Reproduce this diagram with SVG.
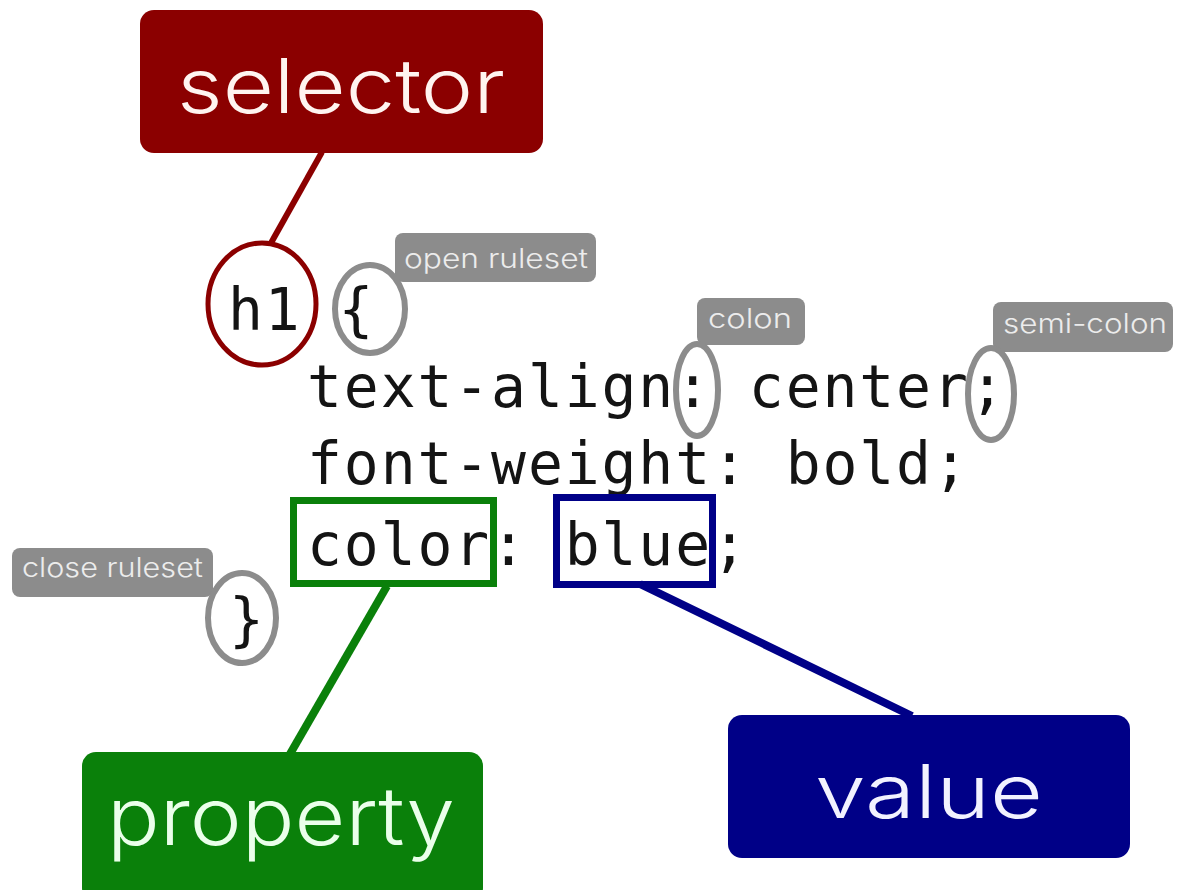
<svg xmlns="http://www.w3.org/2000/svg" width="1177" height="890" viewBox="0 0 1177 890">
<style>
.code{font-family:"DejaVu Sans Mono","Liberation Mono",monospace;font-size:58px;letter-spacing:1.9px;fill:#141414}
.big{font-family:Inter,"Open Sans","DejaVu Sans",sans-serif;font-weight:300;text-anchor:start}
.tag{fill:#8c8c8c}
.tagt{font-family:Inter,"Open Sans","DejaVu Sans",sans-serif;font-size:27px;font-weight:300;fill:#ececec}
.ring{fill:none;stroke:#8c8c8c;stroke-width:6}
</style>
<rect width="1177" height="890" fill="#ffffff"/>
<g id="connectors" fill="none" stroke-linecap="butt">
<line x1="322" y1="152" x2="271" y2="243" stroke="#8b0000" stroke-width="6"/>
<line x1="387" y1="586" x2="290" y2="754" stroke="#0a800a" stroke-width="8"/>
<line x1="640" y1="584" x2="912" y2="716" stroke="#000087" stroke-width="8"/>
</g>
<g id="selector">
<rect x="140" y="10" width="403" height="143" rx="14" fill="#8b0000"/>
<text class="big" x="177" y="113" font-size="76" textLength="328" lengthAdjust="spacingAndGlyphs" fill="#fff4f0">selector</text>
</g>
<g id="property">
<rect x="82" y="752" width="401" height="150" rx="14" fill="#0a800a"/>
<text class="big" x="107" y="845" font-size="80" textLength="348" lengthAdjust="spacingAndGlyphs" fill="#eaffea">property</text>
</g>
<g id="value">
<rect x="728" y="715" width="402" height="143" rx="14" fill="#000087"/>
<text class="big" x="815" y="818" font-size="74" textLength="228" lengthAdjust="spacingAndGlyphs" fill="#f2f2ff">value</text>
</g>
<g id="code">
<text class="code" x="228" y="330">h1 {</text>
<text class="code" x="307" y="407">text-align: center;</text>
<text class="code" x="307" y="484">font-weight: bold;</text>
<text class="code" x="307" y="565">color: blue;</text>
<text class="code" x="229" y="640">}</text>
</g>
<g id="h1-ring">
<ellipse cx="262" cy="304" rx="54" ry="61" fill="none" stroke="#8b0000" stroke-width="5"/>
</g>
<g id="open-ruleset">
<rect class="tag" x="395" y="233" width="201" height="49" rx="8"/>
<text class="tagt" x="404" y="268" textLength="184" lengthAdjust="spacingAndGlyphs">open ruleset</text>
<ellipse class="ring" cx="370" cy="309" rx="35" ry="44"/>
</g>
<g id="colon">
<rect class="tag" x="697" y="298" width="108" height="47" rx="8"/>
<text class="tagt" x="708" y="328" textLength="84" lengthAdjust="spacingAndGlyphs">colon</text>
<ellipse class="ring" cx="697" cy="390" rx="21" ry="46"/>
</g>
<g id="semi-colon">
<rect class="tag" x="993" y="302" width="180" height="50" rx="8"/>
<text class="tagt" x="1003" y="333" textLength="164" lengthAdjust="spacingAndGlyphs">semi-colon</text>
<ellipse class="ring" cx="991" cy="394" rx="23" ry="46"/>
</g>
<g id="close-ruleset">
<rect class="tag" x="12" y="548" width="201" height="49" rx="8"/>
<text class="tagt" x="22" y="577" textLength="181" lengthAdjust="spacingAndGlyphs">close ruleset</text>
<ellipse class="ring" cx="242" cy="618" rx="34" ry="45"/>
</g>
<g id="property-box">
<rect x="293.5" y="500.5" width="200" height="83" fill="none" stroke="#0a800a" stroke-width="7"/>
</g>
<g id="value-box">
<rect x="556.5" y="497.5" width="156" height="87" fill="none" stroke="#000087" stroke-width="7"/>
</g>
</svg>
